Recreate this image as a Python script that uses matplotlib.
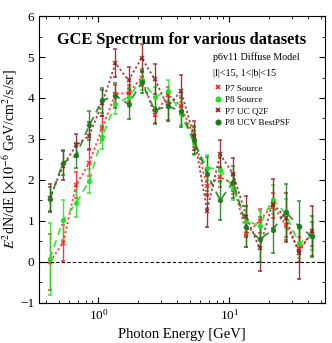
import matplotlib
matplotlib.use("Agg")
import matplotlib.pyplot as plt
from matplotlib.lines import Line2D
from matplotlib.ticker import MultipleLocator

# bin centres [GeV]
energy = [0.427, 0.537, 0.676, 0.851, 1.07, 1.35, 1.70, 2.14, 2.69, 3.39,
          4.27, 5.37, 6.76, 8.51, 10.7, 13.5, 17.0, 21.4, 26.9, 33.9, 42.7]

p7_source = [0.00, 0.46, 1.88, 2.41, 3.27, 4.10, 4.12, 4.50, 3.58, 4.08,
             3.80, 3.05, 1.85, 2.07, 1.90, 0.67, 1.00, 1.38, 0.90, 0.30, 0.68]
p7_source_err = [0.68, 0.45, 0.32, 0.31, 0.30, 0.22, 0.20, 0.20, 0.18, 0.20,
                 0.20, 0.25, 0.25, 0.25, 0.25, 0.30, 0.30, 0.30, 0.30, 0.30, 0.30]

p8_source = [0.07, 1.02, 1.43, 1.97, 3.05, 3.86, 4.02, 4.44, 4.02, 4.18,
             3.62, 2.90, 2.30, 2.25, 1.80, 1.00, 0.88, 1.52, 1.18, 0.45, 0.63]
p8_source_err = [0.88, 0.48, 0.33, 0.30, 0.30, 0.25, 0.25, 0.25, 0.25, 0.26,
                 0.28, 0.30, 0.30, 0.30, 0.30, 0.35, 0.35, 0.35, 0.35, 0.35, 0.35]

p7_ucq2f = [1.56, 2.35, 2.84, 3.08, 3.87, 4.85, 4.43, 4.98, 4.46, 3.80,
            4.17, 3.08, 1.25, 2.63, 2.14, 1.10, 0.33, 1.42, 1.08, 0.22, 0.75]
p7_ucq2f_err = [0.34, 0.36, 0.29, 0.33, 0.32, 0.34, 0.33, 0.35, 0.37, 0.35,
                0.38, 0.35, 0.40, 0.35, 0.40, 0.50, 0.55, 0.60, 0.60, 0.64, 0.62]

p8_ucv = [1.53, 2.42, 2.60, 3.33, 3.94, 4.06, 3.85, 4.38, 3.70, 3.80,
          3.68, 2.97, 2.15, 1.50, 1.95, 0.85, 0.55, 0.77, 1.22, 0.87, 0.62]
p8_ucv_err = [0.30, 0.30, 0.30, 0.35, 0.30, 0.30, 0.36, 0.27, 0.33, 0.33,
              0.38, 0.35, 0.42, 0.47, 0.40, 0.50, 0.55, 0.55, 0.68, 0.62, 0.50]

series = [
    ("P7 Source", p7_source, p7_source_err, "#ff1a1a", "x", (0, (1.2, 1.4))),
    ("P8 Source", p8_source, p8_source_err, "#22e022", "o", (0, (4, 3))),
    ("P7 UC Q2F", p7_ucq2f, p7_ucq2f_err, "#8b1a1a", "x", (0, (1.2, 1.4))),
    ("P8 UCV BestPSF", p8_ucv, p8_ucv_err, "#1a7a1a", "o", (0, (4, 3))),
]

plt.rcParams["font.family"] = ["Liberation Serif", "DejaVu Serif"]
plt.rcParams["mathtext.fontset"] = "stix"

fig = plt.figure(figsize=(3.32, 3.43), dpi=100)
ax = fig.add_axes([0.1175, 0.1175, 0.8615, 0.8355])

for name, vals, errs, col, mk, ls in series:
    ax.errorbar(energy, vals, yerr=errs, color=col, marker=mk, ms=2.8,
                mew=1.1, ls=ls, lw=1.3, elinewidth=1.0, capsize=1.5,
                capthick=0.8, alpha=0.85)

ax.axhline(0.0, color="k", lw=0.8, ls=(0, (3, 2)))

ax.set_xscale("log")
ax.set_xlim(0.352, 53.8)
ax.set_ylim(-1, 6)
ax.yaxis.set_major_locator(MultipleLocator(1))
ax.yaxis.set_minor_locator(MultipleLocator(0.5))
ax.tick_params(which="both", direction="in", top=True, right=True,
               labelsize=9.5)
ax.tick_params(which="major", length=4)
ax.tick_params(which="minor", length=2)

ax.set_xlabel("Photon Energy [GeV]", fontsize=10.5)
ax.set_ylabel(r"$E^2$dN/dE [$\times 10^{-6}$ GeV/cm$^2$/s/sr]",
              fontsize=10, labelpad=1)

ax.text(0.5, 0.915, "GCE Spectrum for various datasets", transform=ax.transAxes,
        ha="center", va="center", fontsize=11.8, fontweight="bold")
ax.text(0.61, 0.857, "p6v11 Diffuse Model", transform=ax.transAxes,
        ha="left", va="center", fontsize=7.3)
ax.text(0.61, 0.80, "|l|<15, 1<|b|<15", transform=ax.transAxes,
        ha="left", va="center", fontsize=7.3)

handles = [Line2D([], [], color=col, marker=mk, ls="none", ms=3.2, mew=1.2)
           for _, _, _, col, mk, _ in series]
labels = [s[0] for s in series]
ax.legend(handles, labels, loc="upper left", bbox_to_anchor=(0.595, 0.775),
          frameon=False, fontsize=6.6, handletextpad=0.1, labelspacing=0.32,
          handlelength=1.2, borderaxespad=0)

fig.savefig("out.png", dpi=100)
